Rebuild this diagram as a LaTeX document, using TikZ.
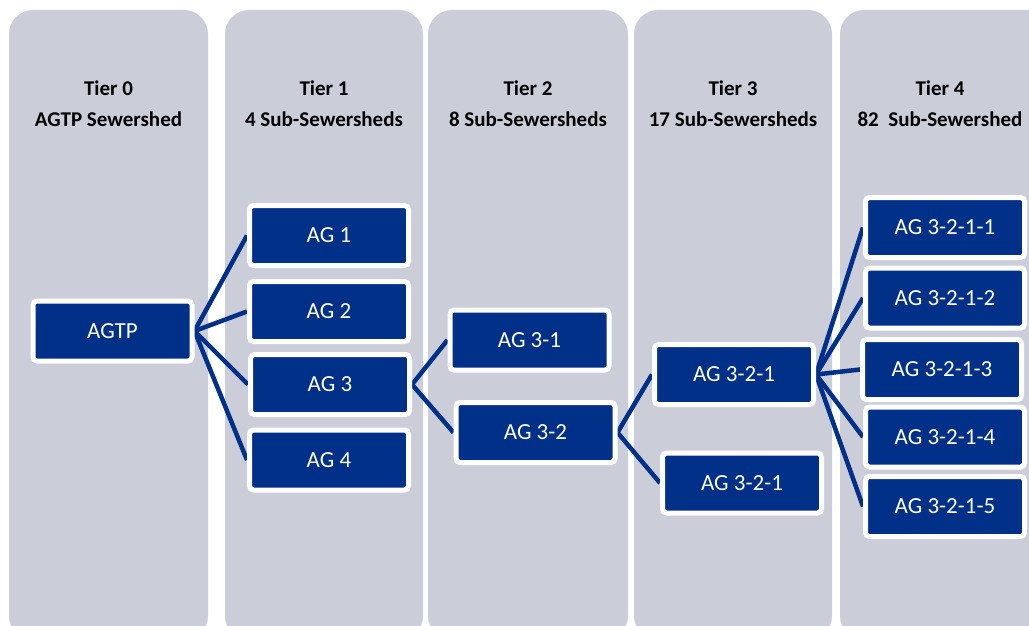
\documentclass[tikz,border=0pt]{standalone}
\usepackage{fontspec}
\setmainfont{Carlito}
\usetikzlibrary{backgrounds}

\definecolor{agblue}{RGB}{0,48,135}
\definecolor{tiergray}{RGB}{203,205,217}

\tikzset{
  tier/.style={fill=tiergray, rounded corners=24pt},
  tiertitle/.style={font=\bfseries\fontsize{21}{31}\selectfont, align=center, inner sep=0pt},
  shed/.style={draw=white, line width=5pt, fill=agblue, rounded corners=4pt, text=white,
    minimum width=159pt, minimum height=60pt, inner sep=0pt, font=\fontsize{23}{26}\selectfont},
  link/.style={draw=agblue, line width=4.5pt},
}

\begin{document}
\begin{tikzpicture}[x=1pt, y=-1pt]
    \useasboundingbox (0,0) rectangle (1029,626);
    \clip (0,0) rectangle (1029,626);

    % tier columns
    \begin{scope}[on background layer]
        \fill[tier] (9,10) rectangle (208,640);
        \fill[tier] (225,10) rectangle (423,640);
        \fill[tier] (428,10) rectangle (628,640);
        \fill[tier] (634,10) rectangle (832,640);
        \fill[tier] (840,10) rectangle (1060,640);
    \end{scope}

    \node[tiertitle] (t0) at (108.5,103.5) {Tier 0\\AGTP Sewershed};
    \node[tiertitle] (t1) at (324,103.5) {Tier 1\\4 Sub-Sewersheds};
    \node[tiertitle] (t2) at (528,103.5) {Tier 2\\8 Sub-Sewersheds};
    \node[tiertitle] (t3) at (733,103.5) {Tier 3\\17 Sub-Sewersheds};
    \node[tiertitle] (t4) at (940,103.5) {Tier 4\\82~~Sub-Sewershed};

    % sewersheds
    \node[shed] (agtp) at (112.5,331) {AGTP};
    \node[shed] (ag1) at (329,235.5) {AG 1};
    \node[shed] (ag2) at (329,311.5) {AG 2};
    \node[shed] (ag3) at (330,384.5) {AG 3};
    \node[shed] (ag4) at (329,460) {AG 4};
    \node[shed] (ag31) at (529.5,340) {AG 3-1};
    \node[shed] (ag32) at (535.5,432.5) {AG 3-2};
    \node[shed] (ag321) at (734,374.5) {AG 3-2-1};
    \node[shed] (ag321x) at (742,483) {AG 3-2-1};
    \node[shed] (ag3211) at (945,227.5) {AG 3-2-1-1};
    \node[shed] (ag3212) at (945,298) {AG 3-2-1-2};
    \node[shed] (ag3213) at (942,369.5) {AG 3-2-1-3};
    \node[shed] (ag3214) at (945,437) {AG 3-2-1-4};
    \node[shed] (ag3215) at (945,506.5) {AG 3-2-1-5};

    % links sit under the boxes
    \begin{scope}[on background layer]
        \foreach \k in {1,...,4} \draw[link] (agtp.east) -- (ag\k.west);
        \draw[link] (ag3.east) -- (ag31.west);
        \draw[link] (ag3.east) -- (ag32.west);
        \draw[link] (ag32.east) -- (ag321.west);
        \draw[link] (ag32.east) -- (ag321x.west);
        \foreach \k in {1,...,5} \draw[link] (ag321.east) -- (ag321\k.west);
    \end{scope}
\end{tikzpicture}
\end{document}
